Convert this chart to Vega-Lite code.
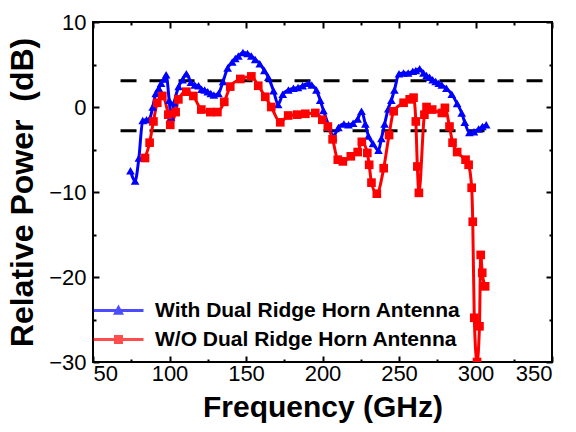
{
  "$schema": "https://vega.github.io/schema/vega-lite/v6.json",
  "width": 459,
  "height": 340,
  "autosize": {"type": "none"},
  "padding": {"left": 93, "top": 22, "right": 24, "bottom": 70},
  "background": "white",
  "config": {
    "view": {"stroke": "black", "strokeWidth": 2},
    "axis": {
      "grid": false,
      "domain": false,
      "tickColor": "black",
      "tickWidth": 2,
      "labelFont": "Liberation Sans",
      "labelFontSize": 22,
      "labelColor": "black",
      "titleFont": "Liberation Sans",
      "titleFontSize": 30,
      "titleFontWeight": "bold",
      "titleColor": "black"
    },
    "legend": {
      "title": null, "orient": "none", "padding": 0,
      "labelFont": "Liberation Sans", "labelFontSize": 21, "labelFontWeight": "bold", "labelColor": "black",
      "labelLimit": 0, "labelOffset": 26, "symbolSize": 100, "symbolStrokeWidth": 0
    }
  },
  "datasets": {
    "refs": [
      {"x1": 68, "x2": 350, "y": 3.1},
      {"x1": 68, "x2": 350, "y": -2.8}
    ],
    "curves": [
      {"s": "With Dual Ridge Horn Antenna", "f": 74.5, "p": -7.5},
      {"s": "With Dual Ridge Horn Antenna", "f": 77.5, "p": -8.7},
      {"s": "With Dual Ridge Horn Antenna", "f": 80, "p": -6.0},
      {"s": "With Dual Ridge Horn Antenna", "f": 82.5, "p": -1.6},
      {"s": "With Dual Ridge Horn Antenna", "f": 85, "p": -1.5},
      {"s": "With Dual Ridge Horn Antenna", "f": 87, "p": -1.4},
      {"s": "With Dual Ridge Horn Antenna", "f": 89, "p": 0.0},
      {"s": "With Dual Ridge Horn Antenna", "f": 91, "p": 1.6},
      {"s": "With Dual Ridge Horn Antenna", "f": 93, "p": 2.2},
      {"s": "With Dual Ridge Horn Antenna", "f": 94.5, "p": 2.8},
      {"s": "With Dual Ridge Horn Antenna", "f": 96.5, "p": 3.3},
      {"s": "With Dual Ridge Horn Antenna", "f": 97.8, "p": 3.8},
      {"s": "With Dual Ridge Horn Antenna", "f": 99.8, "p": 0.8},
      {"s": "With Dual Ridge Horn Antenna", "f": 101, "p": -1.2},
      {"s": "With Dual Ridge Horn Antenna", "f": 103, "p": 0.5},
      {"s": "With Dual Ridge Horn Antenna", "f": 106, "p": 2.4},
      {"s": "With Dual Ridge Horn Antenna", "f": 108.5, "p": 3.2},
      {"s": "With Dual Ridge Horn Antenna", "f": 111, "p": 3.9},
      {"s": "With Dual Ridge Horn Antenna", "f": 114, "p": 2.9},
      {"s": "With Dual Ridge Horn Antenna", "f": 116.5, "p": 2.6},
      {"s": "With Dual Ridge Horn Antenna", "f": 119, "p": 2.5},
      {"s": "With Dual Ridge Horn Antenna", "f": 121, "p": 2.1},
      {"s": "With Dual Ridge Horn Antenna", "f": 123, "p": 2.0},
      {"s": "With Dual Ridge Horn Antenna", "f": 125, "p": 1.8},
      {"s": "With Dual Ridge Horn Antenna", "f": 127, "p": 1.6},
      {"s": "With Dual Ridge Horn Antenna", "f": 129, "p": 1.4},
      {"s": "With Dual Ridge Horn Antenna", "f": 132, "p": 1.6},
      {"s": "With Dual Ridge Horn Antenna", "f": 135, "p": 3.0},
      {"s": "With Dual Ridge Horn Antenna", "f": 138, "p": 4.6},
      {"s": "With Dual Ridge Horn Antenna", "f": 141, "p": 5.3},
      {"s": "With Dual Ridge Horn Antenna", "f": 143, "p": 5.7},
      {"s": "With Dual Ridge Horn Antenna", "f": 145, "p": 6.0},
      {"s": "With Dual Ridge Horn Antenna", "f": 148, "p": 6.4},
      {"s": "With Dual Ridge Horn Antenna", "f": 151, "p": 6.3},
      {"s": "With Dual Ridge Horn Antenna", "f": 153.5, "p": 6.0},
      {"s": "With Dual Ridge Horn Antenna", "f": 156, "p": 5.6},
      {"s": "With Dual Ridge Horn Antenna", "f": 159, "p": 5.1},
      {"s": "With Dual Ridge Horn Antenna", "f": 162, "p": 4.3},
      {"s": "With Dual Ridge Horn Antenna", "f": 164.6, "p": 3.5},
      {"s": "With Dual Ridge Horn Antenna", "f": 168, "p": 1.9},
      {"s": "With Dual Ridge Horn Antenna", "f": 171, "p": 0.3},
      {"s": "With Dual Ridge Horn Antenna", "f": 174, "p": 1.5},
      {"s": "With Dual Ridge Horn Antenna", "f": 177.7, "p": 2.0},
      {"s": "With Dual Ridge Horn Antenna", "f": 181, "p": 2.2},
      {"s": "With Dual Ridge Horn Antenna", "f": 184, "p": 2.3},
      {"s": "With Dual Ridge Horn Antenna", "f": 187, "p": 2.5},
      {"s": "With Dual Ridge Horn Antenna", "f": 190.8, "p": 2.8},
      {"s": "With Dual Ridge Horn Antenna", "f": 193, "p": 2.6},
      {"s": "With Dual Ridge Horn Antenna", "f": 196, "p": 2.0},
      {"s": "With Dual Ridge Horn Antenna", "f": 198.5, "p": 0.8},
      {"s": "With Dual Ridge Horn Antenna", "f": 200.6, "p": -0.4},
      {"s": "With Dual Ridge Horn Antenna", "f": 204.5, "p": -2.4},
      {"s": "With Dual Ridge Horn Antenna", "f": 207, "p": -3.5},
      {"s": "With Dual Ridge Horn Antenna", "f": 210.4, "p": -2.4},
      {"s": "With Dual Ridge Horn Antenna", "f": 214, "p": -2.0},
      {"s": "With Dual Ridge Horn Antenna", "f": 217, "p": -2.1},
      {"s": "With Dual Ridge Horn Antenna", "f": 220, "p": -1.9},
      {"s": "With Dual Ridge Horn Antenna", "f": 223, "p": -1.4},
      {"s": "With Dual Ridge Horn Antenna", "f": 225.5, "p": -0.5},
      {"s": "With Dual Ridge Horn Antenna", "f": 228, "p": -2.0},
      {"s": "With Dual Ridge Horn Antenna", "f": 230, "p": -3.4},
      {"s": "With Dual Ridge Horn Antenna", "f": 233, "p": -4.3},
      {"s": "With Dual Ridge Horn Antenna", "f": 236.6, "p": -5.1},
      {"s": "With Dual Ridge Horn Antenna", "f": 238.5, "p": -3.7},
      {"s": "With Dual Ridge Horn Antenna", "f": 240.6, "p": -2.0},
      {"s": "With Dual Ridge Horn Antenna", "f": 243, "p": -0.2},
      {"s": "With Dual Ridge Horn Antenna", "f": 245, "p": 0.8},
      {"s": "With Dual Ridge Horn Antenna", "f": 247, "p": 2.0},
      {"s": "With Dual Ridge Horn Antenna", "f": 250, "p": 3.9},
      {"s": "With Dual Ridge Horn Antenna", "f": 253, "p": 4.0},
      {"s": "With Dual Ridge Horn Antenna", "f": 256, "p": 4.0},
      {"s": "With Dual Ridge Horn Antenna", "f": 259, "p": 4.2},
      {"s": "With Dual Ridge Horn Antenna", "f": 261, "p": 4.3},
      {"s": "With Dual Ridge Horn Antenna", "f": 263.5, "p": 4.5},
      {"s": "With Dual Ridge Horn Antenna", "f": 266, "p": 4.0},
      {"s": "With Dual Ridge Horn Antenna", "f": 268, "p": 3.7},
      {"s": "With Dual Ridge Horn Antenna", "f": 270, "p": 3.5},
      {"s": "With Dual Ridge Horn Antenna", "f": 272, "p": 3.2},
      {"s": "With Dual Ridge Horn Antenna", "f": 274, "p": 3.0},
      {"s": "With Dual Ridge Horn Antenna", "f": 276, "p": 2.8},
      {"s": "With Dual Ridge Horn Antenna", "f": 278, "p": 2.6},
      {"s": "With Dual Ridge Horn Antenna", "f": 281, "p": 2.2},
      {"s": "With Dual Ridge Horn Antenna", "f": 284.5, "p": 1.5},
      {"s": "With Dual Ridge Horn Antenna", "f": 288, "p": 0.4},
      {"s": "With Dual Ridge Horn Antenna", "f": 291, "p": -0.7},
      {"s": "With Dual Ridge Horn Antenna", "f": 293, "p": -1.8},
      {"s": "With Dual Ridge Horn Antenna", "f": 296, "p": -3.0},
      {"s": "With Dual Ridge Horn Antenna", "f": 299, "p": -2.9},
      {"s": "With Dual Ridge Horn Antenna", "f": 302, "p": -2.6},
      {"s": "With Dual Ridge Horn Antenna", "f": 304.5, "p": -2.3},
      {"s": "With Dual Ridge Horn Antenna", "f": 307, "p": -2.1},
      {"s": "W/O Dual Ridge Horn Antenna", "f": 84, "p": -6.0},
      {"s": "W/O Dual Ridge Horn Antenna", "f": 87, "p": -4.2},
      {"s": "W/O Dual Ridge Horn Antenna", "f": 89.5, "p": -1.7},
      {"s": "W/O Dual Ridge Horn Antenna", "f": 92, "p": 0.5},
      {"s": "W/O Dual Ridge Horn Antenna", "f": 95.3, "p": 1.3},
      {"s": "W/O Dual Ridge Horn Antenna", "f": 99.2, "p": -0.9},
      {"s": "W/O Dual Ridge Horn Antenna", "f": 100.5, "p": -2.1},
      {"s": "W/O Dual Ridge Horn Antenna", "f": 104, "p": -0.6},
      {"s": "W/O Dual Ridge Horn Antenna", "f": 105.8, "p": 0.9},
      {"s": "W/O Dual Ridge Horn Antenna", "f": 111, "p": 1.8},
      {"s": "W/O Dual Ridge Horn Antenna", "f": 115.6, "p": 1.3},
      {"s": "W/O Dual Ridge Horn Antenna", "f": 120.8, "p": -0.3},
      {"s": "W/O Dual Ridge Horn Antenna", "f": 126.7, "p": -0.6},
      {"s": "W/O Dual Ridge Horn Antenna", "f": 131.3, "p": -0.6},
      {"s": "W/O Dual Ridge Horn Antenna", "f": 135.8, "p": 0.6},
      {"s": "W/O Dual Ridge Horn Antenna", "f": 139.7, "p": 2.4},
      {"s": "W/O Dual Ridge Horn Antenna", "f": 146.3, "p": 3.3},
      {"s": "W/O Dual Ridge Horn Antenna", "f": 153.5, "p": 3.6},
      {"s": "W/O Dual Ridge Horn Antenna", "f": 158, "p": 2.5},
      {"s": "W/O Dual Ridge Horn Antenna", "f": 162.6, "p": 1.2},
      {"s": "W/O Dual Ridge Horn Antenna", "f": 166.5, "p": 0.0},
      {"s": "W/O Dual Ridge Horn Antenna", "f": 172.4, "p": -1.8},
      {"s": "W/O Dual Ridge Horn Antenna", "f": 177.6, "p": -1.0},
      {"s": "W/O Dual Ridge Horn Antenna", "f": 183.5, "p": -0.9},
      {"s": "W/O Dual Ridge Horn Antenna", "f": 188.8, "p": -0.8},
      {"s": "W/O Dual Ridge Horn Antenna", "f": 195.3, "p": -0.7},
      {"s": "W/O Dual Ridge Horn Antenna", "f": 199.9, "p": -1.5},
      {"s": "W/O Dual Ridge Horn Antenna", "f": 203.5, "p": -2.3},
      {"s": "W/O Dual Ridge Horn Antenna", "f": 206.6, "p": -3.8},
      {"s": "W/O Dual Ridge Horn Antenna", "f": 210, "p": -6.2},
      {"s": "W/O Dual Ridge Horn Antenna", "f": 213.3, "p": -6.4},
      {"s": "W/O Dual Ridge Horn Antenna", "f": 218.5, "p": -5.8},
      {"s": "W/O Dual Ridge Horn Antenna", "f": 223, "p": -5.3},
      {"s": "W/O Dual Ridge Horn Antenna", "f": 225.7, "p": -4.1},
      {"s": "W/O Dual Ridge Horn Antenna", "f": 229.3, "p": -5.4},
      {"s": "W/O Dual Ridge Horn Antenna", "f": 230.5, "p": -6.8},
      {"s": "W/O Dual Ridge Horn Antenna", "f": 232, "p": -8.9},
      {"s": "W/O Dual Ridge Horn Antenna", "f": 235.5, "p": -10.2},
      {"s": "W/O Dual Ridge Horn Antenna", "f": 240, "p": -7.2},
      {"s": "W/O Dual Ridge Horn Antenna", "f": 243.5, "p": -3.3},
      {"s": "W/O Dual Ridge Horn Antenna", "f": 246.5, "p": -0.5},
      {"s": "W/O Dual Ridge Horn Antenna", "f": 253, "p": 0.5},
      {"s": "W/O Dual Ridge Horn Antenna", "f": 257, "p": 0.9},
      {"s": "W/O Dual Ridge Horn Antenna", "f": 259.5, "p": 1.1},
      {"s": "W/O Dual Ridge Horn Antenna", "f": 261, "p": -1.7},
      {"s": "W/O Dual Ridge Horn Antenna", "f": 262, "p": -7.0},
      {"s": "W/O Dual Ridge Horn Antenna", "f": 263, "p": -10.1},
      {"s": "W/O Dual Ridge Horn Antenna", "f": 266.6, "p": -0.9},
      {"s": "W/O Dual Ridge Horn Antenna", "f": 268, "p": 0.0},
      {"s": "W/O Dual Ridge Horn Antenna", "f": 271.7, "p": -0.3},
      {"s": "W/O Dual Ridge Horn Antenna", "f": 278, "p": -0.7},
      {"s": "W/O Dual Ridge Horn Antenna", "f": 280, "p": -0.1},
      {"s": "W/O Dual Ridge Horn Antenna", "f": 283, "p": -2.3},
      {"s": "W/O Dual Ridge Horn Antenna", "f": 285, "p": -4.2},
      {"s": "W/O Dual Ridge Horn Antenna", "f": 288, "p": -5.3},
      {"s": "W/O Dual Ridge Horn Antenna", "f": 293.5, "p": -6.2},
      {"s": "W/O Dual Ridge Horn Antenna", "f": 295.5, "p": -6.8},
      {"s": "W/O Dual Ridge Horn Antenna", "f": 297.5, "p": -9.5},
      {"s": "W/O Dual Ridge Horn Antenna", "f": 298.2, "p": -13.5},
      {"s": "W/O Dual Ridge Horn Antenna", "f": 299.2, "p": -24.8},
      {"s": "W/O Dual Ridge Horn Antenna", "f": 301, "p": -30},
      {"s": "W/O Dual Ridge Horn Antenna", "f": 302.6, "p": -25.8},
      {"s": "W/O Dual Ridge Horn Antenna", "f": 303.4, "p": -17.4},
      {"s": "W/O Dual Ridge Horn Antenna", "f": 304.4, "p": -19.5},
      {"s": "W/O Dual Ridge Horn Antenna", "f": 306.3, "p": -21.1}
    ]
  },
  "layer": [
    {
      "data": {"name": "refs"},
      "mark": {"type": "rule", "strokeDash": [16, 13], "strokeWidth": 3, "color": "black"},
      "encoding": {
        "x": {"field": "x1", "type": "quantitative", "scale": {"domain": [50, 350], "nice": false, "zero": false},
              "axis": {"orient": "bottom", "values": [75, 125, 175, 225, 275, 325], "labels": false, "tickSize": -3, "title": null}},
        "x2": {"field": "x2"},
        "y": {"field": "y", "type": "quantitative", "scale": {"domain": [-30, 10], "nice": false, "zero": false},
              "axis": {"orient": "left", "values": [-25, -15, -5, 5], "labels": false, "tickSize": -3, "title": null}}
      }
    },
    {
      "data": {"name": "curves"},
      "transform": [{"filter": "datum.s === 'With Dual Ridge Horn Antenna'"}],
      "mark": {"type": "line", "interpolate": "monotone", "strokeWidth": 3, "color": "#0000ff", "clip": true},
      "encoding": {
        "x": {"field": "f", "type": "quantitative",
              "axis": {"orient": "bottom", "values": [50, 100, 150, 200, 250, 300, 350], "tickSize": -6, "labelPadding": 7, "title": "Frequency (GHz)", "titlePadding": 8}},
        "y": {"field": "p", "type": "quantitative",
              "axis": {"orient": "left", "values": [-30, -20, -10, 0, 10], "tickSize": -6, "labelPadding": 13, "title": "Relative Power\u00a0\u00a0(dB)", "titlePadding": 9, "titleFontSize": 32}}
      }
    },
    {
      "data": {"name": "curves"},
      "transform": [{"filter": "datum.s === 'W/O Dual Ridge Horn Antenna'"}],
      "mark": {"type": "line", "interpolate": "monotone", "strokeWidth": 3, "color": "#ff0000", "clip": true},
      "encoding": {
        "x": {"field": "f", "type": "quantitative",
              "axis": {"orient": "top", "values": [50, 100, 150, 200, 250, 300, 350], "tickSize": -6, "labels": false, "title": null}},
        "y": {"field": "p", "type": "quantitative",
              "axis": {"orient": "right", "values": [-30, -20, -10, 0, 10], "tickSize": -6, "labels": false, "title": null}}
      }
    },
    {
      "data": {"name": "curves"},
      "mark": {"type": "point", "filled": true, "opacity": 1, "size": 75, "clip": true},
      "encoding": {
        "x": {"field": "f", "type": "quantitative",
              "axis": {"orient": "top", "values": [75, 125, 175, 225, 275, 325], "labels": false, "tickSize": -3, "title": null}},
        "y": {"field": "p", "type": "quantitative",
              "axis": {"orient": "right", "values": [-25, -15, -5, 5], "labels": false, "tickSize": -3, "title": null}},
        "color": {"field": "s", "type": "nominal",
                  "scale": {"domain": ["With Dual Ridge Horn Antenna", "W/O Dual Ridge Horn Antenna"], "range": ["#0000ff", "#ff0000"]},
                  "legend": null},
        "shape": {"field": "s", "type": "nominal",
                  "scale": {"domain": ["With Dual Ridge Horn Antenna", "W/O Dual Ridge Horn Antenna"], "range": ["triangle-up", "square"]},
                  "legend": null}
      }
    },
    {
      "data": {"name": "curves"},
      "transform": [{"filter": "false"}],
      "mark": {"type": "point", "filled": true, "shape": "M-5,-0.3H5V0.3H-5ZM0,-1.2L1.1,0.85L-1.1,0.85Z"},
      "encoding": {
        "fill": {"field": "s", "type": "nominal",
                 "scale": {"domain": ["With Dual Ridge Horn Antenna"], "range": ["#0000ff"]},
                 "legend": {"legendX": 15, "legendY": 278}}
      }
    },
    {
      "data": {"name": "curves"},
      "transform": [{"filter": "false"}],
      "mark": {"type": "point", "filled": true, "shape": "M-5,-0.3H5V0.3H-5ZM-0.9,-0.9H0.9V0.9H-0.9Z"},
      "encoding": {
        "fill": {"field": "s", "type": "nominal",
                 "scale": {"domain": ["W/O Dual Ridge Horn Antenna"], "range": ["#ff0000"]},
                 "legend": {"legendX": 15, "legendY": 307}}
      }
    }
  ],
  "resolve": {
    "axis": {"x": "independent", "y": "independent"},
    "scale": {"fill": "independent"},
    "legend": {"fill": "independent"}
  }
}
